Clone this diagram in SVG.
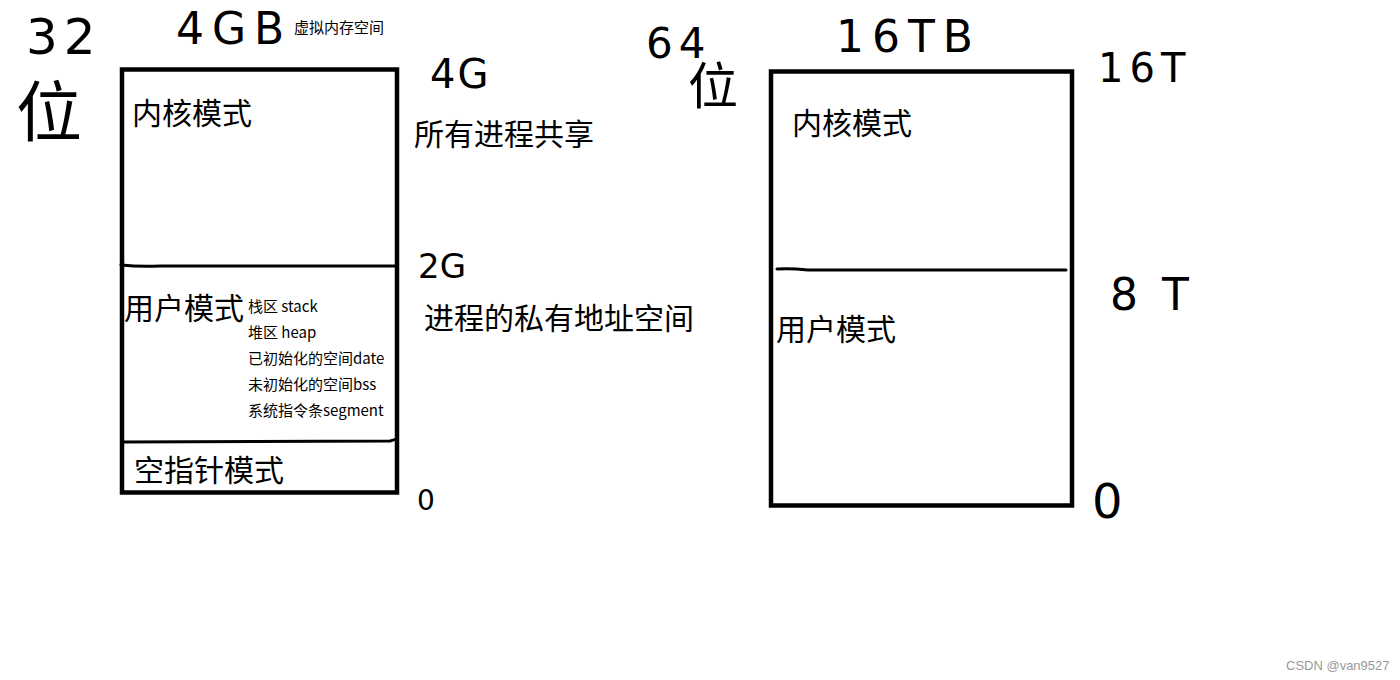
<svg xmlns="http://www.w3.org/2000/svg" width="1400" height="680" viewBox="0 0 1400 680">
<style>
.box{fill:none;stroke:#000;stroke-width:4.5}
.div{stroke:#000;stroke-width:3;fill:none;stroke-linecap:round}
.big{font-family:"Microsoft YaHei","Noto Sans CJK SC",sans-serif;font-size:30px;fill:#000}
.small{font-family:"Microsoft YaHei","Noto Sans CJK SC",sans-serif;font-size:15px;fill:#000}
.hand{font-family:"DejaVu Sans","Noto Sans CJK SC",sans-serif;fill:#000;font-weight:normal}
.wm{font-family:"Liberation Sans",Arial,sans-serif;font-size:13px;fill:#999}
</style>
<rect width="1400" height="680" fill="#fff"/>
<g id="left-box">
<rect class="box" x="122" y="69.5" width="275" height="423"/>
<path class="div" d="M121 265 Q140 267 160 266 L396 266"/>
<path class="div" d="M123 442 L390 441 Q394 440 396 439"/>
<text class="big" x="132" y="124">内核模式</text>
<text class="big" x="124" y="319">用户模式</text>
<text class="small" x="248" y="312">栈区 stack</text>
<text class="small" x="248" y="338">堆区 heap</text>
<text class="small" x="248" y="364">已初始化的空间date</text>
<text class="small" x="248" y="390">未初始化的空间bss</text>
<text class="small" x="248" y="416">系统指令条segment</text>
<text class="big" x="134" y="481">空指针模式</text>
</g>
<g id="right-box">
<rect class="box" x="771" y="71.5" width="301" height="434"/>
<path class="div" d="M777 269 Q790 268 808 270 L1066 270"/>
<text class="big" x="792" y="134">内核模式</text>
<text class="big" x="776" y="340">用户模式</text>
</g>
<g id="labels">
<text class="small" x="294" y="33">虚拟内存空间</text>
<text class="big" x="414" y="145">所有进程共享</text>
<text class="big" x="424" y="329">进程的私有地址空间</text>
</g>
<g id="handwriting">
<text class="hand" x="26" y="54" font-size="50" letter-spacing="6">32</text>
<text class="hand" x="16" y="136" font-size="66">位</text>
<text class="hand" x="176" y="44" font-size="44" letter-spacing="8">4GB</text>
<text class="hand" x="430" y="88" font-size="40" letter-spacing="2">4G</text>
<text class="hand" x="418" y="278" font-size="34">2G</text>
<text class="hand" x="417" y="510" font-size="28">0</text>
<text class="hand" x="646" y="58" font-size="42" letter-spacing="6">64</text>
<text class="hand" x="688" y="104" font-size="50">位</text>
<text class="hand" x="836" y="52" font-size="44" letter-spacing="8">16TB</text>
<text class="hand" x="1098" y="82" font-size="40" letter-spacing="6">16T</text>
<text class="hand" x="1110" y="310" font-size="44" letter-spacing="24">8T</text>
<text class="hand" x="1092" y="518" font-size="48">0</text>
</g>
<text class="wm" x="1286" y="670">CSDN @van9527</text>
</svg>
